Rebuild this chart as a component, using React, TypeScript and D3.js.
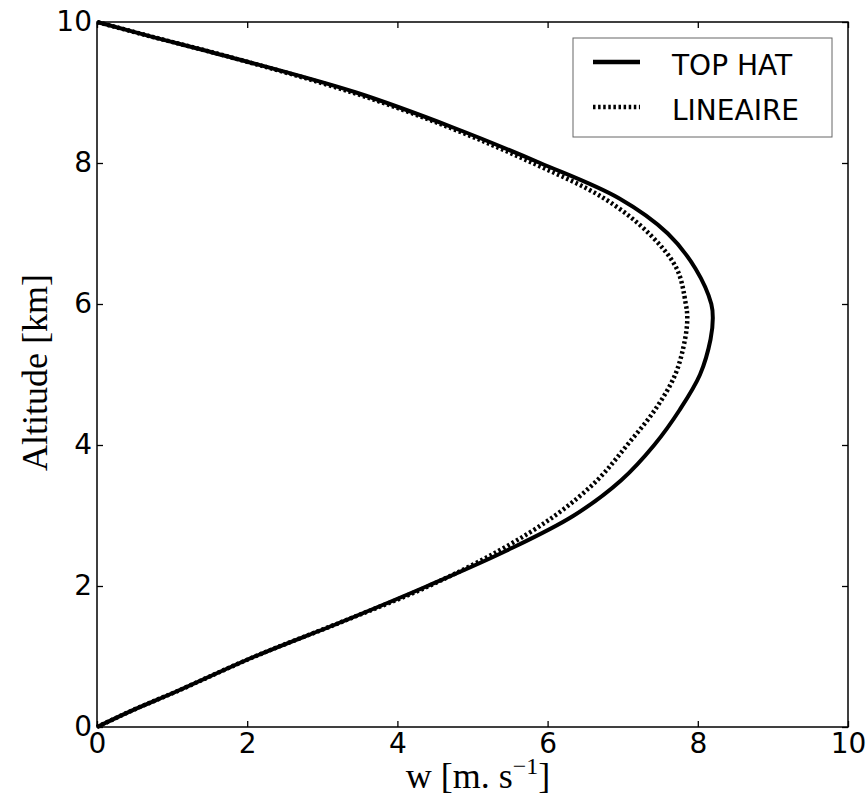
import React, {useEffect, useRef} from 'react';
import * as d3 from 'd3';

// altitude levels [km] shared by both profiles
const altitudes = [0, 0.25, 0.5, 1, 1.5, 2, 2.5, 3, 3.5, 4, 4.5, 5, 5.5, 5.8, 6, 6.5, 7, 7.5, 8, 8.5, 9, 9.5, 9.8, 10];

// vertical velocity w [m/s]
const topHat = [0, 0.5, 1.05, 2.1, 3.28, 4.4, 5.45, 6.35, 6.98, 7.42, 7.76, 8.03, 8.17, 8.2, 8.18, 7.97, 7.6, 6.95, 5.9, 4.75, 3.45, 1.78, 0.7, 0];
const lineaire = [0, 0.5, 1.05, 2.1, 3.28, 4.42, 5.35, 6.1, 6.66, 7.06, 7.43, 7.7, 7.83, 7.86, 7.84, 7.72, 7.35, 6.75, 5.8, 4.7, 3.4, 1.78, 0.7, 0];

const xTicks = [0, 2, 4, 6, 8, 10];
const yTicks = [0, 2, 4, 6, 8, 10];

const seriesNames = ['TOP HAT', 'LINEAIRE'];

const width = 868;
const height = 807;
const margin = {top: 22, right: 20, bottom: 80, left: 97};

const App: React.FC = () => {
    const svgRef = useRef<SVGSVGElement>(null);

    useEffect(() => {
        const svg = d3.select(svgRef.current);
        svg.selectAll("*").remove();

        const innerWidth = width - margin.left - margin.right;
        const innerHeight = height - margin.top - margin.bottom;

        const x = d3.scaleLinear().domain([0, 10]).range([0, innerWidth]);
        const y = d3.scaleLinear().domain([0, 10]).range([innerHeight, 0]);

        const g = svg.append("g")
            .attr("transform", `translate(${margin.left},${margin.top})`);

        const tickFont = "'DejaVu Sans', sans-serif";

        // bottom axis with labels, ticks pointing inward
        const bottom = g.append("g")
            .attr("transform", `translate(0,${innerHeight})`)
            .call(d3.axisBottom(x).tickValues(xTicks).tickSize(-6).tickSizeOuter(0).tickPadding(6).tickFormat(d3.format("d")));
        bottom.selectAll("text").style("font-family", tickFont).style("font-size", "28px").attr("fill", "#000");

        const left = g.append("g")
            .call(d3.axisLeft(y).tickValues(yTicks).tickSize(-6).tickSizeOuter(0).tickPadding(5).tickFormat(d3.format("d")));
        left.selectAll("text").style("font-family", tickFont).style("font-size", "28px").attr("fill", "#000");

        // top and right ticks, no labels
        g.append("g")
            .call(d3.axisTop(x).tickValues(xTicks).tickSize(-6).tickSizeOuter(0).tickFormat(() => ""));
        g.append("g")
            .attr("transform", `translate(${innerWidth},0)`)
            .call(d3.axisRight(y).tickValues(yTicks).tickSize(-6).tickSizeOuter(0).tickFormat(() => ""));

        g.selectAll(".domain").remove();
        g.selectAll(".tick line").attr("stroke", "#000").attr("stroke-width", 1.3);

        // frame
        g.append("rect")
            .attr("width", innerWidth)
            .attr("height", innerHeight)
            .attr("fill", "none")
            .attr("stroke", "#000")
            .attr("stroke-width", 1.5);

        const line = d3.line<number>()
            .x(d => x(d))
            .y((d, i) => y(altitudes[i]))
            .curve(d3.curveCatmullRom.alpha(0.5));

        g.append("path")
            .datum(lineaire)
            .attr("fill", "none")
            .attr("stroke", "#000")
            .attr("stroke-width", 4.5)
            .attr("stroke-dasharray", "2.5,2.6")
            .attr("d", line);

        g.append("path")
            .datum(topHat)
            .attr("fill", "none")
            .attr("stroke", "#000")
            .attr("stroke-width", 4)
            .attr("d", line);

        // legend
        const legend = svg.append("g").attr("transform", "translate(573,38)");
        legend.append("rect")
            .attr("width", 259)
            .attr("height", 99)
            .attr("fill", "#fff")
            .attr("stroke", "#666")
            .attr("stroke-width", 1);

        seriesNames.forEach((name, i) => {
            const ly = 24 + i * 45;
            legend.append("line")
                .attr("x1", 20).attr("x2", 67)
                .attr("y1", ly).attr("y2", ly)
                .attr("stroke", "#000")
                .attr("stroke-width", 4.5)
                .attr("stroke-dasharray", i === 0 ? null : "2.5,2.6");
            legend.append("text")
                .attr("x", 99)
                .attr("y", ly + 13)
                .style("font-family", tickFont)
                .style("font-size", "28px")
                .attr("fill", "#000")
                .text(name);
        });

        // axis titles
        svg.append("text")
            .attr("transform", `translate(47,${margin.top + innerHeight / 2 - 2}) rotate(-90)`)
            .attr("text-anchor", "middle")
            .style("font-family", "'Liberation Serif', serif")
            .style("font-size", "36px")
            .attr("fill", "#000")
            .text("Altitude [km]");

        const xl = svg.append("text")
            .attr("x", 478)
            .attr("y", 788)
            .attr("text-anchor", "middle")
            .style("font-family", "'Liberation Serif', serif")
            .style("font-size", "36px")
            .attr("fill", "#000");
        xl.append("tspan").text("w [m. s");
        xl.append("tspan").attr("dy", -14).style("font-size", "24px").text("−1");
        xl.append("tspan").attr("dy", 14).text("]");
    }, []);

    return (
        <div style={{position: 'absolute', left: 0, top: 0}}>
            <svg ref={svgRef} width={width} height={height} style={{display: 'block', background: '#fff'}}/>
        </div>
    );
};

export default App;
